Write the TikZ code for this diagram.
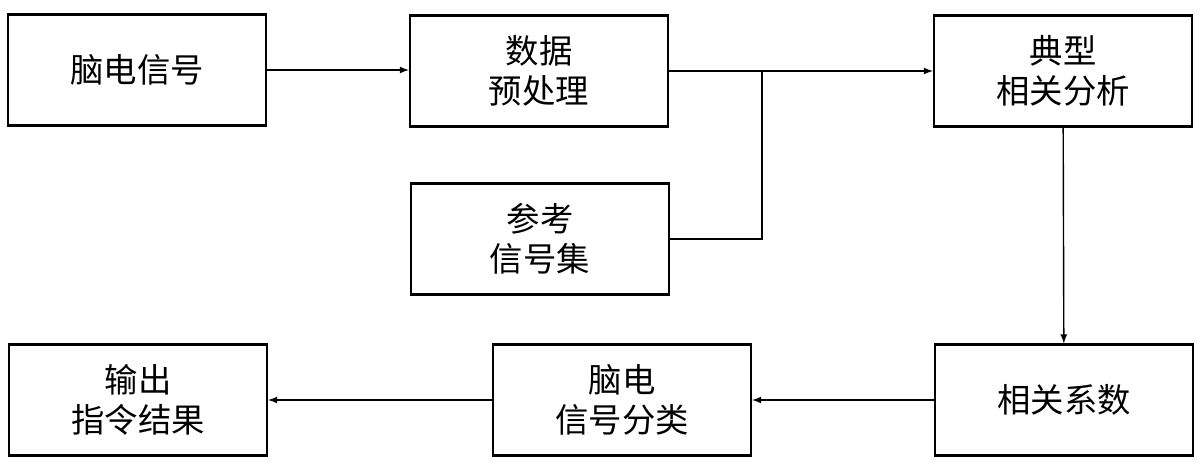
\documentclass[tikz,border=0pt]{standalone}
\usepackage{fontspec}
\setmainfont{Noto Sans CJK SC}
\begin{document}
\begin{tikzpicture}[x=0.02cm,y=-0.02cm,
 box/.style={draw,line width=1.2pt,minimum width=5.16cm,minimum height=2.22cm,align=center,font=\fontsize{19}{23}\selectfont,inner sep=0pt},
 arr/.style={-latex,line width=0.8pt}]
\useasboundingbox (0,0) rectangle (1200,470);
\node[box] (a) at (137,70) {脑电信号};
\node[box] (b) at (539,71) {数据\\预处理};
\node[box] (c) at (1063,71) {典型\\相关分析};
\node[box] (d) at (540,239) {参考\\信号集};
\node[box] (e) at (1064,400) {相关系数};
\node[box] (f) at (622,400) {脑电\\信号分类};
\node[box] (g) at (138,400) {输出\\指令结果};
\coordinate (j) at (762,71);
\draw[arr] (a.east|-0,70) -- (b.west|-0,70);
\draw[arr] (b) -- (c);
\draw[line width=0.8pt] (d.east) -| (j);
\draw[arr] (c) -- (e);
\draw[arr] (e) -- (f);
\draw[arr] (f) -- (g);
\end{tikzpicture}
\end{document}
